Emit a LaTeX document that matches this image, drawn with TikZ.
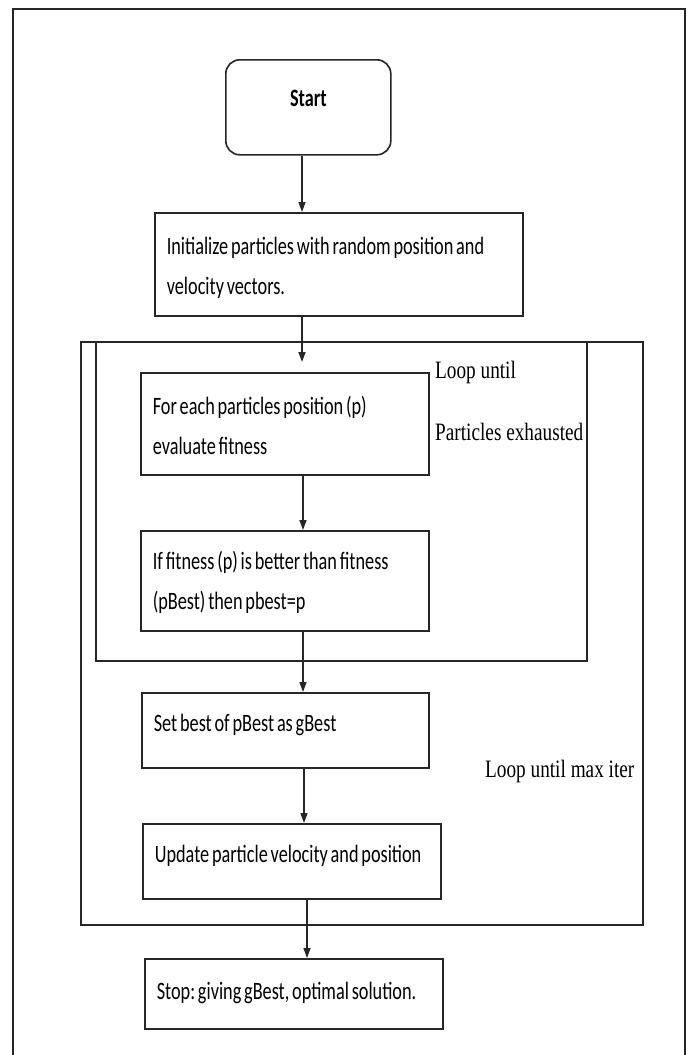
\documentclass[tikz,border=0pt]{standalone}
\usepackage{fontspec}
\newfontfamily\boxfont{Carlito}[FakeStretch=0.73]
\newfontfamily\loopfont{Liberation Serif}[FakeStretch=0.77]
\newcommand\boxtext{\boxfont\fontsize{25}{40}\selectfont}
\newcommand\tightwords{\spaceskip=2.8pt plus 1pt minus 0.5pt\xspaceskip=2.8pt\relax}
\usetikzlibrary{arrows.meta}
\begin{document}
\begin{tikzpicture}[x=1pt,y=-1pt,
  ink/.style={draw=black!85, line width=1.6pt},
  procbox/.style={ink, rectangle, anchor=north west, align=left,
    inner xsep=12pt, inner ysep=0pt, font=\boxtext,
    execute at begin node=\tightwords},
  arr/.style={draw=black!85, line width=1.3pt,
    -{Triangle[length=10pt,width=7pt]}},
  looplabel/.style={anchor=base west, inner sep=0pt,
    font=\loopfont\fontsize{25}{30}\selectfont}]

% page
\fill[white] (0,0) rectangle (693,1055);
\useasboundingbox (0,0) rectangle (693,1055);

% frame around the whole chart (runs off the bottom edge)
\draw[ink, line width=1.4pt] (13,1055) -- (13,9) -- (685,9) -- (685,1055);

% loop frames
\draw[ink] (81,342) rectangle (643,925);
\draw[ink] (96,342) rectangle (587,661);

% steps
\node[ink, rounded corners=14pt, anchor=north west, minimum width=165pt,
  minimum height=95pt, inner sep=0pt, text height=17pt, text depth=19pt,
  font=\boxfont\bfseries\fontsize{25}{30}\selectfont]
  (start) at (225,59) {Start};

\node[procbox, minimum width=368pt, minimum height=103pt, text width=344pt,
  text height=24pt]
  (init) at (154,212)
  {Initialize particles with random position and\\velocity vectors.};

\node[procbox, minimum width=288pt, minimum height=102pt, text width=264pt,
  text height=22pt]
  (eval) at (140,372)
  {For each particles position (p)\\evaluate fitness};

\node[procbox, minimum width=288pt, minimum height=100pt, text width=264pt,
  text height=22pt]
  (pbest) at (140,530)
  {If fitness (p) is better than fitness\\(pBest) then pbest=p};

\node[procbox, minimum width=287pt, minimum height=75pt, text width=263pt,
  text height=17pt, text depth=15pt]
  (gbest) at (141,692) {Set best of pBest as gBest};

\node[procbox, minimum width=298pt, minimum height=75pt, text width=274pt,
  text height=17pt, text depth=15pt]
  (update) at (142,823) {Update particle velocity and position};

\node[procbox, minimum width=298pt, minimum height=70pt, text width=274pt,
  text height=17pt, text depth=6pt]
  (stop) at (144,958) {Stop: giving gBest, optimal solution.};

% loop labels
\node[looplabel] (innerA) at (435,378) {Loop until};
\node[looplabel] (innerB) at (435,440) {Particles exhausted};
\node[looplabel] (outer) at (485,777) {Loop until max iter};

% connectors
\coordinate (xa) at (302,0);
\coordinate (xb) at (303,0);
\coordinate (xc) at (304,0);
\coordinate (xd) at (307,0);
\draw[arr] (start.south -| xa) -- (init.north -| xa);
\draw[arr, shorten >=10pt] (init.south -| xa) -- (eval.north -| xa);
\draw[arr] (eval.south -| xb) -- (pbest.north -| xb);
\draw[arr] (pbest.south -| xb) -- (gbest.north -| xb);
\draw[arr] (gbest.south -| xc) -- (update.north -| xc);
\draw[arr] (update.south -| xd) -- (stop.north -| xd);
\end{tikzpicture}
\end{document}
